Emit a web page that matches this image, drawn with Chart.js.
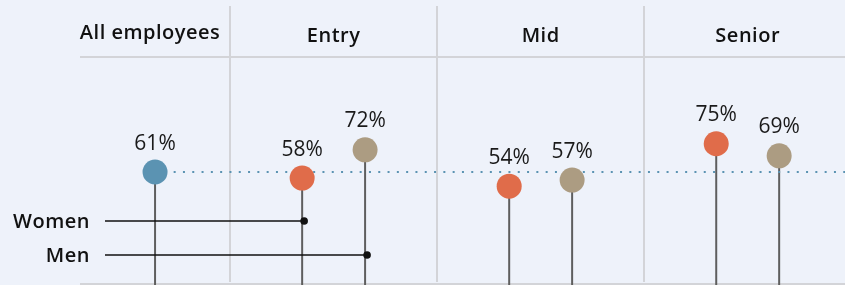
<!DOCTYPE html>
<html>
<head>
<meta charset="utf-8">
<script src="https://cdn.jsdelivr.net/npm/chart.js@4/dist/chart.umd.min.js"></script>
<style>
  html, body { margin: 0; padding: 0; background: #eef2fa; overflow: hidden; }
  canvas { display: block; }
</style>
</head>
<body>
<canvas id="chart" width="845" height="285"></canvas>
<script>
// data
var groups = ["All employees", "Entry", "Mid", "Senior"];
var allValue = 61;
var women = [58, 54, 75];   // Entry, Mid, Senior
var men = [72, 57, 69];
var legendNames = ["Women", "Men"];

var BLUE = "#5b93b2", ORANGE = "#e06c4a", TAN = "#ac9c82";
var FONT = "'Open Sans', sans-serif";
var X_MIN = -0.225, X_MAX = 3.47, OFFSET = 0.152;

// all employees sits in the middle of its own (narrower) column
var allX = (X_MIN + 0.5) / 2;

function pts(values, shift) {
    return values.map(function(v, i){ return { x: i + 1 + shift, y: v }; });
}

var avgLine = [{ x: allX, y: allValue }, { x: X_MAX, y: allValue }];

// background, header, column lines
var frame = {
    id: "frame",
    beforeDraw: function(chart){
        var c = chart.ctx, a = chart.chartArea, xs = chart.scales.x;
        c.save();
        c.fillStyle = "#eef2fa";
        c.fillRect(0, 0, chart.width, chart.height);

        c.strokeStyle = "#d3d4d8";
        c.lineWidth = 2;
        [0.5, 1.5, 2.5].forEach(function(b){
            var px = Math.round(xs.getPixelForValue(b));
            c.beginPath(); c.moveTo(px, 6); c.lineTo(px, 282); c.stroke();
        });
        c.beginPath(); c.moveTo(a.left, 57); c.lineTo(a.right, 57); c.stroke();
        c.beginPath(); c.moveTo(a.left, 284); c.lineTo(a.right, 284); c.stroke();

        c.fillStyle = "#111";
        c.font = "600 20px " + FONT;
        c.letterSpacing = "0.5px";
        c.textAlign = "center";
        c.textBaseline = "alphabetic";
        groups.forEach(function(g, i){
            var cx = i === 0 ? xs.getPixelForValue(allX) - 5 : xs.getPixelForValue(i);
            c.fillText(g, cx, i === 0 ? 39 : 42);
        });
        c.restore();
    },
    beforeDatasetsDraw: function(chart){
        var c = chart.ctx, a = chart.chartArea;
        c.save();
        c.strokeStyle = "#5e5e5e";
        c.lineWidth = 2;
        [1, 2, 3].forEach(function(di){
            chart.getDatasetMeta(di).data.forEach(function(el){
                c.beginPath(); c.moveTo(el.x, el.y); c.lineTo(el.x, a.bottom + 5); c.stroke();
            });
        });
        c.restore();
    },
    afterDatasetsDraw: function(chart){
        var c = chart.ctx;
        c.save();
        c.fillStyle = "#1a1a1a";
        c.font = "400 21px " + FONT;
        c.textAlign = "center";
        c.textBaseline = "alphabetic";
        [1, 2, 3].forEach(function(di){
            var ds = chart.data.datasets[di];
            chart.getDatasetMeta(di).data.forEach(function(el, i){
                c.fillText(ds.data[i].y + "%", el.x, el.y - 22.5);
            });
        });

        // legend callouts pointing at the Entry lollipops
        var targets = [chart.getDatasetMeta(2).data[0], chart.getDatasetMeta(3).data[0]];
        var rows = [221, 255];
        c.font = "600 20px " + FONT;
        c.letterSpacing = "0.5px";
        c.textAlign = "right";
        c.textBaseline = "middle";
        legendNames.forEach(function(n, i){
            var y = rows[i], tx = targets[i].x + 2;
            c.fillStyle = "#111";
            c.fillText(n, 90, y + 1);
            c.strokeStyle = "#111";
            c.lineWidth = 1.6;
            c.beginPath(); c.moveTo(105, y); c.lineTo(tx, y); c.stroke();
            c.beginPath(); c.arc(tx, y, 3.8, 0, Math.PI * 2); c.fill();
        });
        c.restore();
    }
};

new Chart(document.getElementById("chart"), {
    type: "scatter",
    data: {
        datasets: [
            {
                type: "line",
                data: avgLine,
                borderColor: BLUE,
                borderWidth: 2.2,
                borderDash: [2, 7.3],
                pointRadius: 0,
                order: 10
            },
            {
                data: [{ x: allX, y: allValue }],
                backgroundColor: BLUE,
                pointRadius: 12.5,
                borderWidth: 0,
                order: 1
            },
            {
                data: pts(women, -OFFSET),
                backgroundColor: ORANGE,
                pointRadius: 12.5,
                borderWidth: 0,
                order: 1
            },
            {
                data: pts(men, OFFSET),
                backgroundColor: TAN,
                pointRadius: 12.5,
                borderWidth: 0,
                order: 1
            }
        ]
    },
    options: {
        responsive: false,
        animation: false,
        layout: { autoPadding: false, padding: { left: 80, top: 57, right: 0, bottom: 0 } },
        scales: {
            x: { type: "linear", display: false, min: X_MIN, max: X_MAX },
            y: { display: false, min: 5, max: 118 }
        },
        plugins: {
            legend: { display: false },
            tooltip: { enabled: false }
        }
    },
    plugins: [frame]
});
</script>
</body>
</html>
